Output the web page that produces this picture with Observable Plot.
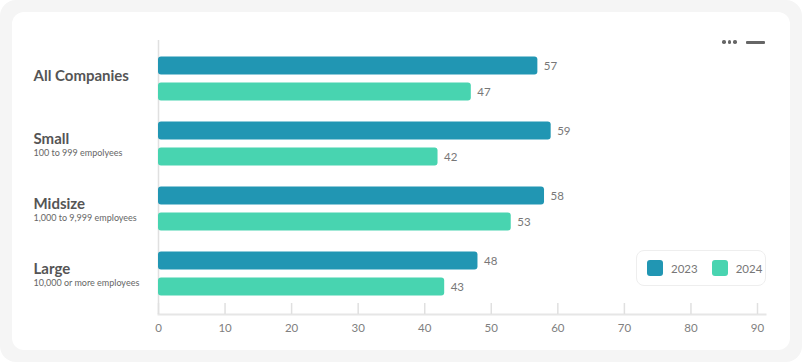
<!DOCTYPE html>
<html><head><meta charset="utf-8">
<script src="https://cdn.jsdelivr.net/npm/d3@7"></script>
<script src="https://cdn.jsdelivr.net/npm/@observablehq/plot@0.6"></script>
<style>
html,body{margin:0;padding:0;background:#fff;}
#wrap{position:relative;width:802px;height:362px;background:#f5f5f5;border-radius:16px;overflow:hidden;font-family:Lato,"Open Sans",sans-serif;}
#card{position:absolute;left:12px;top:12px;width:778px;height:338px;background:#fff;border-radius:12px;}
#chart{position:absolute;left:0;top:0;}
#legend{position:absolute;left:636px;top:250px;width:128px;height:34px;border:1px solid #eee;border-radius:8px;background:#fff;display:flex;align-items:center;font-size:11.5px;color:#777;}
.item{display:flex;align-items:center;margin-left:10px;}
.sw{width:16px;height:16px;border-radius:3px;margin-right:8px;}
.dots{position:absolute;left:722px;top:40px;display:flex;gap:2px;}
.dot{width:3.5px;height:3.5px;border-radius:50%;background:#666;}
.dash{position:absolute;left:746px;top:40.5px;width:19px;height:3px;background:#666;border-radius:1px;}
</style></head>
<body>
<div id="wrap"><div id="card"></div><div id="chart"></div>
<div class="dots"><div class="dot"></div><div class="dot"></div><div class="dot"></div></div><div class="dash"></div>
<div id="legend"></div></div>
<script>
const groups = ["All Companies", "Small", "Midsize", "Large"];
const subtitles = ["", "100 to 999 empolyees", "1,000 to 9,999 employees", "10,000 or more employees"];
const years = ["2023", "2024"];
const values2023 = [57, 59, 58, 48];
const values2024 = [47, 42, 53, 43];
const xTicks = [0, 10, 20, 30, 40, 50, 60, 70, 80, 90];
const colors = ["#2196b3", "#48d4b0"];

const d23 = groups.map((g, i) => ({group: g, value: values2023[i]}));
const d24 = groups.map((g, i) => ({group: g, value: values2024[i]}));
const labels = groups.map((g, i) => ({group: g, sub: subtitles[i]}));
const withSub = labels.filter(d => d.sub);
const noSub = labels.filter(d => !d.sub);

const chart = Plot.plot({
  width: 802, height: 362,
  marginLeft: 158, marginRight: 45, marginTop: 45.5, marginBottom: 56.5,
  style: {background: "transparent", fontFamily: "Lato, 'Open Sans', sans-serif"},
  x: {domain: [0, 90], axis: null, label: null},
  y: {domain: groups, type: "band", padding: 0, axis: null, label: null},
  marks: [
    Plot.frame({anchor: "bottom", dy: 8.5, insetRight: -8, stroke: "#e6e6e6", strokeWidth: 2}),
    Plot.axisX(xTicks, {fill: "none", stroke: "#e0e0e0", strokeWidth: 1.5, tickSize: -11, dy: 8.5, label: null}),
    Plot.axisX(xTicks, {tickSize: 0, tickPadding: 18, fill: "#808080", fontSize: 11.5, label: null}),
    Plot.ruleX([0], {stroke: "#e0e0e0", strokeWidth: 1.5, insetTop: -5.5, insetBottom: -8.5}),
    Plot.barX(d23, {x: "value", y: "group", fill: colors[0], insetTop: 10.5, insetBottom: 36.5, rx: 3}),
    Plot.barX(d24, {x: "value", y: "group", fill: colors[1], insetTop: 36.5, insetBottom: 10.5, rx: 3}),
    Plot.text(d23, {x: "value", y: "group", text: "value", dy: -12.5, dx: 6, textAnchor: "start", fill: "#777", fontSize: 11.5}),
    Plot.text(d24, {x: "value", y: "group", text: "value", dy: 13, dx: 6, textAnchor: "start", fill: "#777", fontSize: 11.5}),
    Plot.text(noSub, {y: "group", text: "group", frameAnchor: "left", dx: -125, dy: -3, textAnchor: "start", fill: "#555", fontSize: 15, fontWeight: 700}),
    Plot.text(withSub, {y: "group", text: "group", frameAnchor: "left", dx: -125, dy: -5, textAnchor: "start", fill: "#555", fontSize: 15, fontWeight: 700}),
    Plot.text(withSub, {y: "group", text: "sub", frameAnchor: "left", dx: -125, dy: 9, textAnchor: "start", fill: "#666", fontSize: 9})
  ]
});
document.getElementById("chart").appendChild(chart);

const legend = document.getElementById("legend");
years.forEach((y, i) => {
  const it = document.createElement("div");
  it.className = "item";
  if (i > 0) it.style.marginLeft = "14px";
  it.innerHTML = `<div class="sw" style="background:${colors[i]}"></div><span>${y}</span>`;
  legend.appendChild(it);
});
</script>
</body></html>
